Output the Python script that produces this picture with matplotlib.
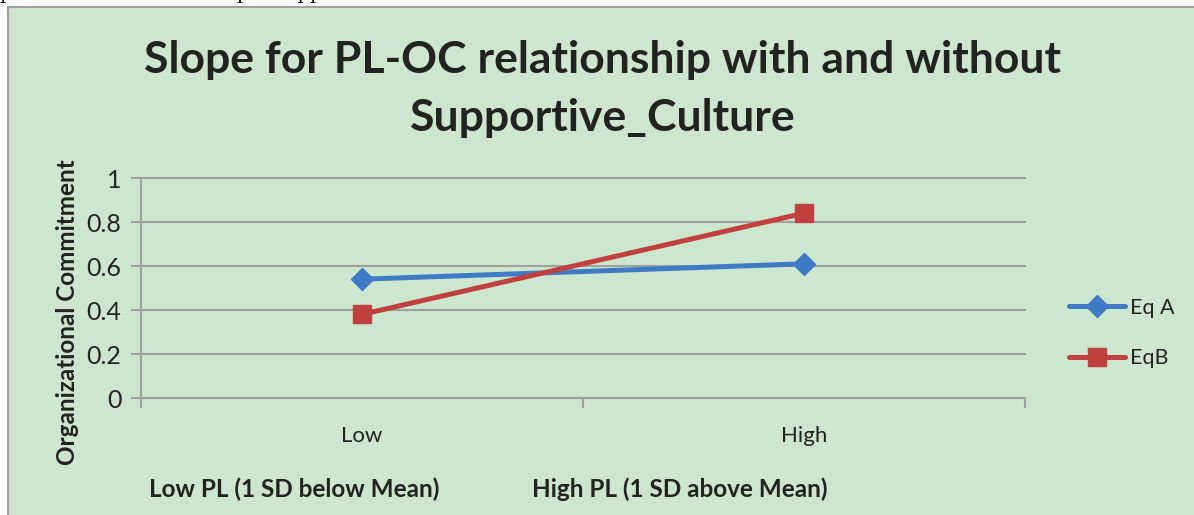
import matplotlib
matplotlib.use('Agg')
import matplotlib.pyplot as plt
from matplotlib.patches import Rectangle

# values
categories = ['Low', 'High']
eq_a = [0.54, 0.61]
eq_b = [0.38, 0.84]
series_names = ['Eq A', 'EqB']
yticks = [0, 0.2, 0.4, 0.6, 0.8, 1]

bg = '#cde6ce'
grid_col = '#a0a0a0'
blue = '#3f7bc4'
red = '#c0403d'
font = 'Lato'
txt = '#222222'

fig = plt.figure(figsize=(11.94, 5.15), dpi=100)
fig.patch.set_facecolor('white')

# chart area (green box with grey border on top/left)
fig.patches.append(Rectangle((8 / 1194, -0.01), 1, 1 - 7 / 515 + 0.01,
                             transform=fig.transFigure, facecolor=bg,
                             edgecolor='#a0a0a0', linewidth=1.5, zorder=-5))

# clipped line of document text above the chart
fig.text(0.0, 1.012, 'paternalistic relationship \u2013 Supportive Culture',
         family='DejaVu Serif', fontsize=14, va='center', ha='left', color='black')

ax = fig.add_axes([141 / 1194, 1 - 398 / 515, 884 / 1194, 220 / 515])
ax.set_facecolor('none')

x = list(range(len(categories)))
ax.plot(x, eq_a, color=blue, lw=3.6, marker='D', markersize=11, label=series_names[0],
        solid_capstyle='round', zorder=3)
ax.plot(x, eq_b, color=red, lw=3.6, marker='s', markersize=13, label=series_names[1],
        solid_capstyle='round', zorder=3)

ax.set_xlim(-0.5, 1.5)
ax.set_ylim(0, 1)
ax.set_yticks(yticks)
ax.set_yticklabels(['0', '0.2', '0.4', '0.6', '0.8', '1'], family=font, fontsize=18, color=txt)
ax.set_xticks(x)
ax.set_xticklabels(categories, family=font, fontsize=16, color=txt)
ax.set_xticks([-0.5, 0.5, 1.5], minor=True)
ax.tick_params(axis='x', which='major', length=0, pad=20)
ax.tick_params(axis='x', which='minor', length=7, width=1.5, color=grid_col, direction='out')
ax.tick_params(axis='y', length=7, width=1.5, color=grid_col, direction='out', pad=7)
ax.yaxis.grid(True, color=grid_col, lw=1.5)
for g in ax.get_ygridlines():
    g.set_clip_on(False)
for s in ['top', 'right']:
    ax.spines[s].set_visible(False)
for s in ['left', 'bottom']:
    ax.spines[s].set_color(grid_col)
    ax.spines[s].set_linewidth(1.5)

fig.text(603 / 1194, 1 - 89 / 515,
         'Slope for PL-OC relationship with and without\nSupportive_Culture',
         family=font, fontweight='bold', fontsize=32, ha='center', va='center',
         linespacing=1.55, color=txt)

fig.text(68 / 1194, 1 - 312 / 515, 'Organizational Commitment', family=font,
         fontweight='bold', fontsize=17.5, rotation=90, ha='center', va='center',
         color=txt)

fig.text(294 / 1194, 1 - 489 / 515, 'Low PL (1 SD below Mean)', family=font,
         fontweight='bold', fontsize=17.5, ha='center', va='center', color=txt)
fig.text(680 / 1194, 1 - 489 / 515, 'High PL (1 SD above Mean)', family=font,
         fontweight='bold', fontsize=17.5, ha='center', va='center', color=txt)

leg = fig.legend(loc='center left', bbox_to_anchor=(1050 / 1194, 1 - 333 / 515),
                 frameon=False, prop={'family': font, 'size': 15.5},
                 handlelength=2.6, labelspacing=1.4, handletextpad=0.2)
for t in leg.get_texts():
    t.set_color(txt)

fig.savefig('out.png', dpi=100, facecolor='white')
